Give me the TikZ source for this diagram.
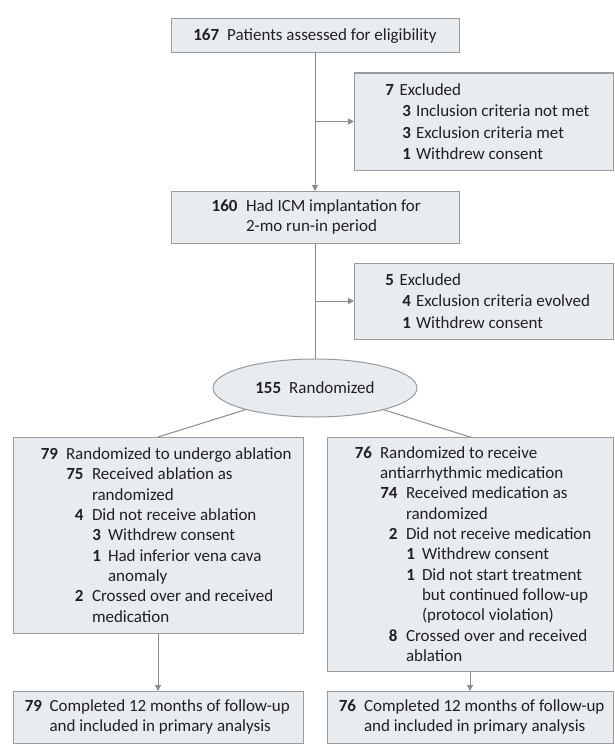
\documentclass[tikz,border=0pt]{standalone}
\usepackage{fontspec}
\setmainfont{Carlito}
\usetikzlibrary{arrows.meta,shapes.geometric,calc}
\definecolor{boxfill}{RGB}{230,236,240}
\definecolor{boxline}{RGB}{155,155,155}
\definecolor{conn}{RGB}{140,140,140}
\definecolor{txt}{RGB}{35,31,32}
\newcommand\lvl[3]{\hspace*{#1pt}\llap{\textbf{#2}}\hspace*{#3pt}}
\newcommand\cont[1]{\hspace*{#1pt}}
\begin{document}
\begin{tikzpicture}[x=1pt,y=-1pt,
  box/.style={draw=boxline, fill=boxfill, line width=1pt, rectangle, inner sep=0pt, outer sep=0pt},
  body/.style={inner sep=0pt, outer sep=0pt, align=left, text=txt, font=\fontsize{17}{20.3}\selectfont},
  exbody/.style={body, font=\fontsize{17}{21.5}\selectfont},
  ctr/.style={text=txt, font=\fontsize{17}{20.3}\selectfont},
  link/.style={draw=conn, line width=1pt},
  arr/.style={link, -{Triangle[length=6pt,width=6pt]}}]
\useasboundingbox (0,0) rectangle (614,752);

% boxes
\node[box, ctr, minimum width=288pt, minimum height=34pt] (A) at (315,36)
  {\textbf{167}\hspace{8pt}Patients assessed for eligibility};
\node[box, minimum width=259pt, minimum height=97pt] (B) at (483.5,121.5) {};
\node[exbody, anchor=west] (Bt) at (B.west)
  {\lvl{40}{7}{5.5}Excluded\\
   \lvl{57}{3}{5}Inclusion criteria not met\\
   \lvl{57}{3}{5}Exclusion criteria met\\
   \lvl{57}{1}{5}Withdrew consent};
\node[box, minimum width=288pt, minimum height=52pt] (C) at (315,217) {};
\node[body, anchor=west] (Ct) at (C.west)
  {\lvl{66.5}{160}{8.5}Had ICM implantation for\\
   \cont{75}2-mo run-in period};
\node[box, minimum width=259pt, minimum height=76pt] (X) at (483.5,301) {};
\node[exbody, anchor=west] (Xt) at (X.west)
  {\lvl{40}{5}{5.5}Excluded\\
   \lvl{57}{4}{5}Exclusion criteria evolved\\
   \lvl{57}{1}{5}Withdrew consent};
\node[draw=boxline, fill=boxfill, line width=1pt, ellipse, inner sep=0pt, outer sep=0pt,
      minimum width=204pt, minimum height=58pt, ctr] (R) at (315,388)
  {\textbf{155}\hspace{8pt}Randomized};
\node[box, minimum width=290pt, minimum height=196pt] (D) at (158,535) {};
\node[body, anchor=west] (Dt) at (D.west)
  {\lvl{45}{79}{8}Randomized to undergo ablation\\
   \lvl{70.5}{75}{8.5}Received ablation as\\
   \cont{79}randomized\\
   \lvl{70.5}{4}{8.5}Did not receive ablation\\
   \lvl{88}{3}{7}Withdrew consent\\
   \lvl{88}{1}{7}Had inferior vena cava\\
   \cont{95}anomaly\\
   \lvl{70.5}{2}{8.5}Crossed over and received\\
   \cont{79}medication};
\node[box, minimum width=286pt, minimum height=234pt] (E) at (470,554) {};
\node[body, anchor=west] (Et) at (E.west)
  {\lvl{45}{76}{8}Randomized to receive\\
   \cont{53}antiarrhythmic medication\\
   \lvl{70.5}{74}{8.5}Received medication as\\
   \cont{79}randomized\\
   \lvl{70.5}{2}{8.5}Did not receive medication\\
   \lvl{88}{1}{7}Withdrew consent\\
   \lvl{88}{1}{7}Did not start treatment\\
   \cont{95}but continued follow-up\\
   \cont{95}(protocol violation)\\
   \lvl{70.5}{8}{8.5}Crossed over and received\\
   \cont{79}ablation};
\node[box, minimum width=290pt, minimum height=52pt] (F) at (158,717) {};
\node[body, anchor=west] (Ft) at (F.west)
  {\lvl{29}{79}{7.5}Completed 12 months of follow-up\\
   \cont{36.5}and included in primary analysis};
\node[box, minimum width=286pt, minimum height=52pt] (G) at (470,717) {};
\node[body, anchor=west] (Gt) at (G.west)
  {\lvl{29}{76}{8}Completed 12 months of follow-up\\
   \cont{37}and included in primary analysis};

% connectors
\draw[arr] (A) -- (C);
\draw[arr] (A.south |- B.west) -- (B.west);
\draw[link] (C) -- (R);
\draw[arr] (C.south |- X.west) -- (X.west);
\draw[link] (R) -- (D.north);
\draw[link] (R) -- (E.north);
\draw[arr] (D) -- (F);
\draw[arr] (E) -- (G);
\end{tikzpicture}
\end{document}
